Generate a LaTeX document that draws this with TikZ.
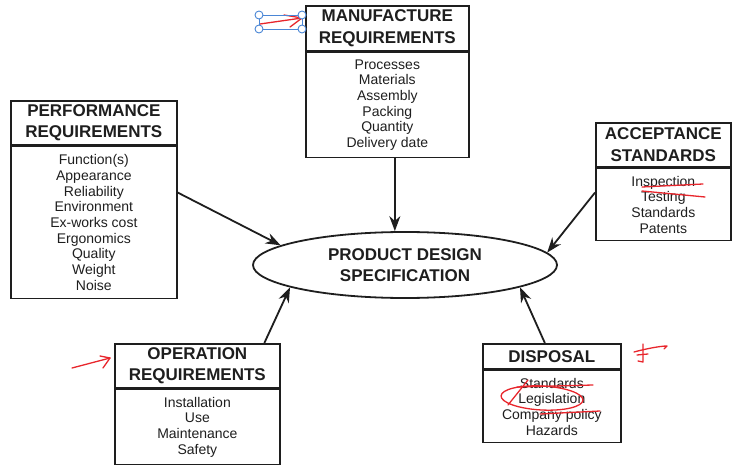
\documentclass[tikz,border=0pt]{standalone}
\usepackage{fontspec}
\setmainfont{Liberation Sans}
\usetikzlibrary{arrows.meta,shapes.geometric}
\definecolor{ink}{HTML}{1E1E1E}
\definecolor{pen}{HTML}{E8262C}
\definecolor{sel}{HTML}{4A86D6}
\begin{document}
\begin{tikzpicture}[x=1pt,y=-1pt,
  hdr/.style={draw=ink, line width=1.7pt, font=\fontsize{17}{21.5}\selectfont\bfseries,
    align=center, inner sep=0pt, anchor=north west, text=ink},
  bodybox/.style={draw=ink, line width=1.7pt, font=\fontsize{14}{15.7}\selectfont,
    align=center, inner sep=0pt, anchor=north west, text=ink},
  arr/.style={line width=1.8pt, draw=ink, -{Stealth[length=15pt,width=11pt]}},
  redpen/.style={draw=pen, line width=1.3pt, line cap=round, line join=round},
  handle/.style={draw=sel, line width=0.9pt, fill=white}
]
\useasboundingbox (0,0) rectangle (738,470);

% Manufacture
\node[hdr, minimum width=163pt, minimum height=45pt] (manh) at (305,5) {MANUFACTURE\\REQUIREMENTS};
\node[bodybox, minimum width=163pt, minimum height=105pt] (manb) at (manh.south west)
  {Processes\\Materials\\Assembly\\Packing\\Quantity\\Delivery date};

% Performance
\node[hdr, minimum width=166pt, minimum height=44pt] (perfh) at (10,100) {PERFORMANCE\\REQUIREMENTS};
\node[bodybox, minimum width=166pt, minimum height=152pt] (perfb) at (perfh.south west)
  {Function(s)\\Appearance\\Reliability\\Environment\\Ex-works cost\\Ergonomics\\Quality\\Weight\\Noise};

% Acceptance
\node[hdr, minimum width=135pt, minimum height=44pt] (acch) at (595,122) {ACCEPTANCE\\STANDARDS};
\node[bodybox, minimum width=135pt, minimum height=72pt] (accb) at (acch.south west)
  {Inspection\\Testing\\Standards\\Patents};

% Operation
\node[hdr, minimum width=165pt, minimum height=44pt] (oph) at (114,343) {OPERATION\\REQUIREMENTS};
\node[bodybox, minimum width=165pt, minimum height=75pt] (opb) at (oph.south west)
  {Installation\\Use\\Maintenance\\Safety};

% Disposal
\node[hdr, minimum width=138pt, minimum height=25pt] (disph) at (482,343) {DISPOSAL};
\node[bodybox, minimum width=138pt, minimum height=72pt] (dispb) at (disph.south west)
  {Standards\\Legislation\\Company policy\\Hazards};

% Centre ellipse
\node[draw=ink, ellipse, line width=1.8pt, minimum width=304pt, minimum height=66pt, inner sep=0pt,
  font=\fontsize{17}{21}\selectfont\bfseries, align=center, text=ink] (pds) at (405,265)
  {PRODUCT DESIGN\\SPECIFICATION};

% Connectors
\draw[arr] ([xshift=7.5pt]manb.south) -- ([xshift=7.5pt]manb.south |- pds.north);
\draw[arr] ([yshift=30pt]perfb.east) -- (pds.171);
\draw[arr] ([yshift=12pt]accb.west) -- (pds.5);
\draw[arr] ([xshift=67pt]oph.north) -- (pds.191);
\draw[arr] ([xshift=-7pt]disph.north) -- (pds.-11);

% Red pen annotations
\draw[redpen] (260,24) -- (302,18);
\draw[redpen] (284,15) -- (302,18) -- (290,27);
\draw[sel, line width=0.9pt] (259,15) rectangle (302,29);
\foreach \p in {(259,15),(302,15),(259,29),(302,29)} \draw[handle] \p circle (4pt);

\draw[redpen] (72,368) -- (110,358);
\draw[redpen] (100,356) -- (110,358) -- (103,368);

\draw[redpen] (642,187) -- (703,184);
\draw[redpen] (642,191) -- (705,197);

\draw[redpen, rotate around={-3:(542,398)}] (542,398) ellipse (41pt and 12pt);
\draw[redpen] (517,387) -- (593,385);
\draw[redpen] (528,380) -- (508,405);
\draw[redpen] (540,414) -- (600,411);

\draw[redpen] (634,352) .. controls (645,349) and (660,346) .. (667,346) -- (664,349);
\draw[redpen] (643,344) -- (643,362) -- (638,361);
\draw[redpen] (637,355) -- (648,354);
\end{tikzpicture}
\end{document}
